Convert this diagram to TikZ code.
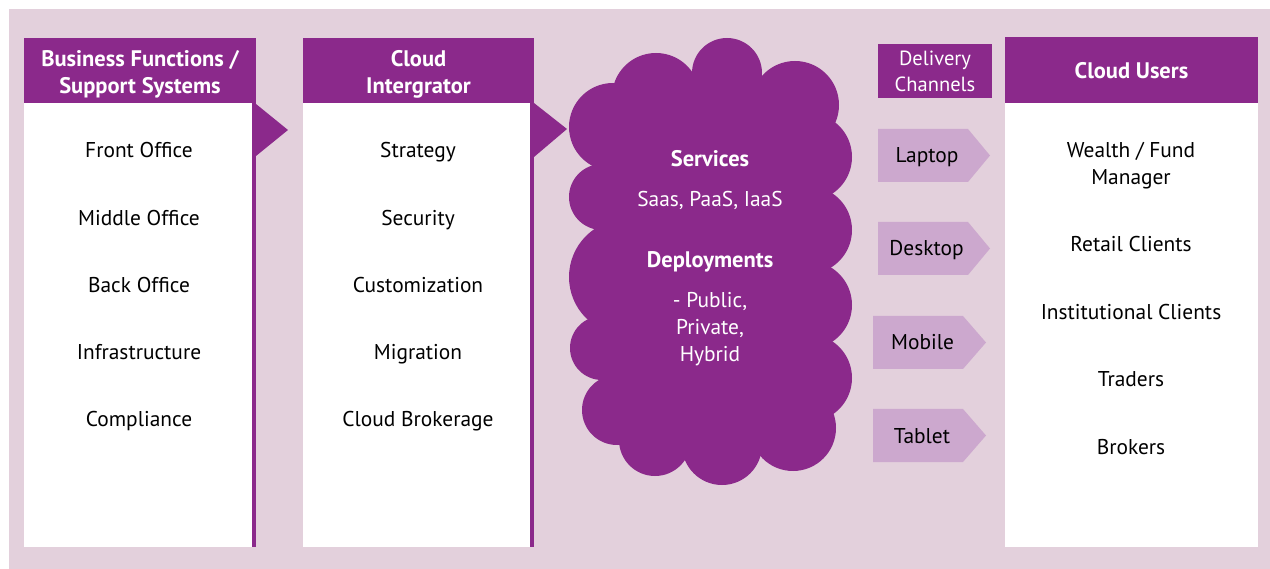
\documentclass[tikz,border=0pt]{standalone}
\usepackage{fontspec}
\setmainfont{PT Sans}
\definecolor{plum}{HTML}{8B298B}
\definecolor{mauve}{HTML}{E3D0DC}
\definecolor{lilac}{HTML}{CCA8CE}
% text nodes are placed by the baseline of their last line
\tikzset{
  hdr/.style={text=white, font=\fontsize{22.5}{27}\selectfont\bfseries,
    align=center, inner sep=0pt, anchor=base},
  item/.style={text=black, font=\fontsize{21.4}{27}\selectfont, align=center,
    inner sep=0pt, anchor=base},
  cloudtxt/.style={text=white, font=\fontsize{21.4}{27}\selectfont, align=center,
    inner sep=0pt, anchor=base},
  cloudhead/.style={cloudtxt, font=\fontsize{22.5}{27}\selectfont\bfseries},
  chan/.style={fill=lilac},
  chantxt/.style={text=black, font=\fontsize{21.4}{27}\selectfont, inner sep=0pt,
    anchor=base},
}
\begin{document}
\begin{tikzpicture}[x=1pt,y=-1pt]
\useasboundingbox (0,0) rectangle (1270,569);
\fill[mauve] (9,9) rectangle (1270,569);

% ---- column 1: business functions
\fill[plum] (24,38) rectangle (256,103);
\fill[white] (24,103) rectangle (252,547);
\fill[plum] (252,103) rectangle (256,547);
\fill[plum] (256,104) -- (288,130) -- (256,156) -- cycle;
\node[hdr] (hdrA) at (140,94) {Business Functions /\\Support Systems};
\node[item] (a1) at (139,158) {Front Office};
\node[item] (a2) at (139,226) {Middle Office};
\node[item] (a3) at (139,293) {Back Office};
\node[item] (a4) at (139,360) {Infrastructure};
\node[item] (a5) at (139,427) {Compliance};

% ---- column 2: cloud integrator
\fill[plum] (303,38) rectangle (534,103);
\fill[white] (303,103) rectangle (530,547);
\fill[plum] (530,103) rectangle (534,547);
\fill[plum] (534,103) -- (567,129) -- (534,157) -- cycle;
\node[hdr] (hdrB) at (418.5,94) {Cloud\\Intergrator};
\node[item] (b1) at (418,158) {Strategy};
\node[item] (b2) at (418,226) {Security};
\node[item] (b3) at (418,293) {Customization};
\node[item] (b4) at (418,360) {Migration};
\node[item] (b5) at (418,427) {Cloud Brokerage};

% ---- cloud: ring of overlapping circles around a polygon through their centres
\begin{scope}[plum]
\fill (613,127) -- (656,97) -- (727,73) -- (795,105) -- (808,157) -- (808,230)
  -- (808,305) -- (808,378) -- (793,428) -- (722,445) -- (655,440) -- (617,410)
  -- (602,348) -- (627,277) -- (602,197) -- cycle;
\foreach \cx/\cy/\r in {613/127/44, 656/97/44, 727/73/35, 795/105/44,
    808/157/44, 808/230/44, 808/305/44, 808/378/44, 793/428/43, 722/445/40,
    655/440/36, 617/410/35, 602/348/32, 627/277/58, 602/197/33}
  \fill (\cx,\cy) circle (\r);
\end{scope}
\node[cloudhead] (svc) at (710,167) {Services};
\node[cloudtxt] (svcl) at (710,207) {Saas, PaaS, IaaS};
\node[cloudhead] (dep) at (710,268) {Deployments};
\node[cloudtxt] (depl) at (710,362) {- Public,\\Private,\\Hybrid};

% ---- delivery channels
\fill[plum] (878,44) rectangle (992,98);
\node[text=white, font=\fontsize{20.5}{26}\selectfont, align=center,
  inner sep=0pt, anchor=base] (dc) at (935,91.5) {Delivery\\Channels};
\fill[chan] (878,129) -- (968,129) -- (990,155.5) -- (968,182) -- (878,182) -- cycle;
\node[chantxt] (c1) at (927,163) {Laptop};
\fill[chan] (878,222) -- (968,222) -- (990,248.5) -- (968,275) -- (878,275) -- cycle;
\node[chantxt] (c2) at (926.5,256) {Desktop};
\fill[chan] (873,316) -- (963,316) -- (986,342.5) -- (963,369) -- (873,369) -- cycle;
\node[chantxt] (c3) at (922.5,350) {Mobile};
\fill[chan] (873,409) -- (963,409) -- (986,435.5) -- (963,462) -- (873,462) -- cycle;
\node[chantxt] (c4) at (922,443) {Tablet};

% ---- column 4: cloud users
\fill[plum] (1005,37) rectangle (1258,103);
\fill[white] (1005,103) rectangle (1258,547);
\node[hdr] (hdrD) at (1131.5,79) {Cloud Users};
\node[item] (d1) at (1131,185) {Wealth / Fund\\Manager};
\node[item] (d2) at (1131,252) {Retail Clients};
\node[item] (d3) at (1131,320) {Institutional Clients};
\node[item] (d4) at (1131,387) {Traders};
\node[item] (d5) at (1131,454) {Brokers};
\end{tikzpicture}
\end{document}
